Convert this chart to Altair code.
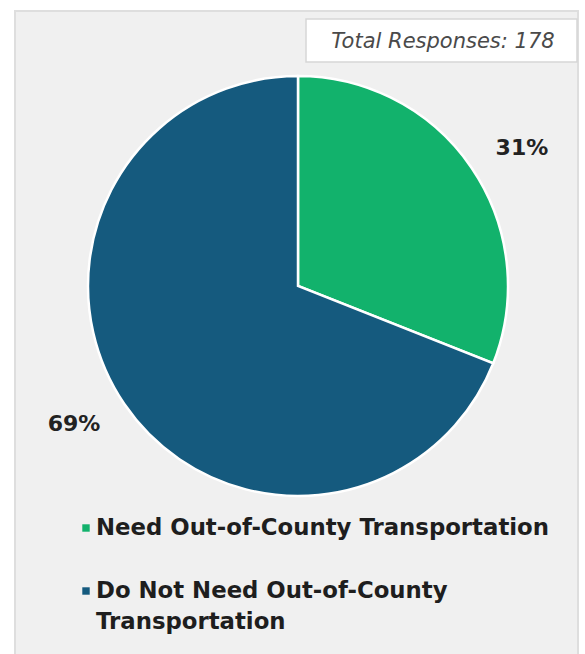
import altair as alt
import pandas as pd

categories = ["Need Out-of-County Transportation", "Do Not Need Out-of-County Transportation"]
legend_labels = ["Need Out-of-County Transportation", "Do Not Need Out-of-County\nTransportation"]
values = [31, 69]
pct_labels = ["31%", "69%"]
colors = ["#12b26c", "#155a7e"]
total_text = "Total Responses: 178"

df = pd.DataFrame({
    "cat": categories,
    "val": values,
    "pct": pct_labels,
    "order": [0, 1],
    "legend": legend_labels,
    "ly": [528, 591],
})

W, H = 585, 654
CX, CY, R = 298, 286, 210

color_scale = alt.Scale(domain=categories, range=colors)

card = alt.Chart(pd.DataFrame({"a": [0]})).mark_rect(
    fill="#f0f0f0", stroke="#dedede", strokeWidth=2
).encode(x=alt.value(15), x2=alt.value(578), y=alt.value(11), y2=alt.value(660))

box = alt.Chart(pd.DataFrame({"a": [0]})).mark_rect(
    fill="#ffffff", stroke="#d6d6d6", strokeWidth=1.5
).encode(x=alt.value(306), x2=alt.value(577), y=alt.value(19), y2=alt.value(62))

box_text = alt.Chart(pd.DataFrame({"t": [total_text]})).mark_text(
    font="DejaVu Sans", fontStyle="italic", fontSize=21, color="#4a4a4a",
    align="center", baseline="middle"
).encode(x=alt.value(443), y=alt.value(42), text="t:N")

base = alt.Chart(df).encode(
    theta=alt.Theta("val:Q", stack=True),
    order=alt.Order("order:Q"),
)

pie = base.mark_arc(outerRadius=R, stroke="#ffffff", strokeWidth=2.5).encode(
    color=alt.Color("cat:N", scale=color_scale, legend=None),
    x=alt.value(CX), y=alt.value(CY),
)

labels = base.mark_text(
    radius=263, thetaOffset=0.045, font="DejaVu Sans", fontWeight="bold", fontSize=22,
    color="#222222", align="center", baseline="middle"
).encode(text="pct:N", x=alt.value(CX), y=alt.value(CY))

leg_sq = alt.Chart(df).mark_square(size=55, opacity=1).encode(
    x=alt.value(86),
    y=alt.Y("ly:Q", scale=None, axis=None),
    color=alt.Color("cat:N", scale=color_scale, legend=None),
)

leg_txt = alt.Chart(df).mark_text(
    font="DejaVu Sans", fontWeight="bold", fontSize=22.8, color="#1e1e1e",
    align="left", baseline="middle", lineBreak="\n", lineHeight=31
).encode(
    x=alt.value(96),
    y=alt.Y("ly:Q", scale=None, axis=None),
    text="legend:N",
)

chart = alt.layer(card, box, box_text, pie, labels, leg_sq, leg_txt).properties(
    width=W, height=H, padding=0, background="#ffffff",
    autosize=alt.AutoSizeParams(type="none"),
).configure_view(stroke=None)

chart.save("out.html", embed_options={"renderer": "svg", "actions": False})
